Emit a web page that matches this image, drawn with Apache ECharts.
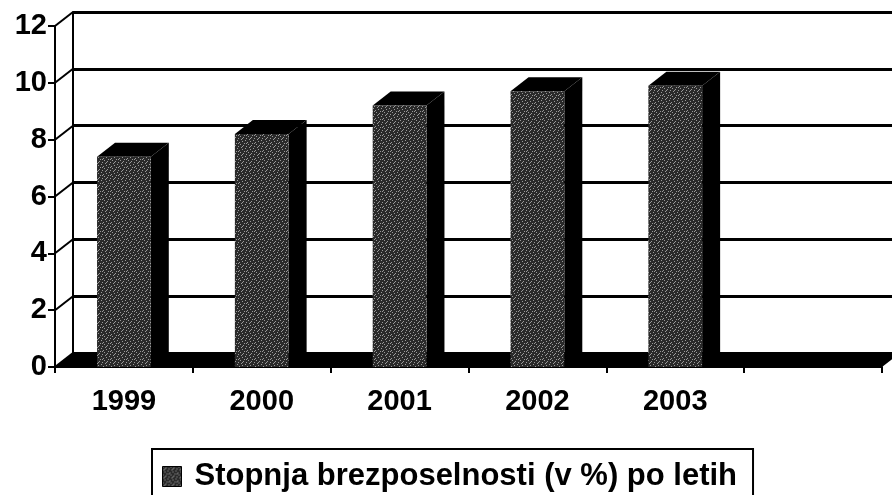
<!DOCTYPE html>
<html>
<head>
<meta charset="utf-8">
<script src="https://cdn.jsdelivr.net/npm/echarts@6/dist/echarts.min.js"></script>
<style>
html, body { margin: 0; padding: 0; background: #fff; }
#main { width: 892px; height: 495px; }
</style>
</head>
<body>
<div id="main"></div>
<script>
// data
var years = ['1999', '2000', '2001', '2002', '2003', ''];
var rates = [7.4, 8.2, 9.2, 9.7, 9.9];
var yTicks = [0, 2, 4, 6, 8, 10, 12];
var seriesName = 'Stopnja brezposelnosti (v %) po letih';

// 3D depth offset (back wall vs front plane)
var DX = 18, DY = -14;
var FONT = '"Liberation Sans", Arial, sans-serif';

// speckled dark texture for the bar fronts
function makeTexture() {
    var c = document.createElement('canvas');
    c.width = 8; c.height = 8;
    var ctx = c.getContext('2d');
    ctx.fillStyle = '#2a2a2a';
    ctx.fillRect(0, 0, 8, 8);
    ctx.fillStyle = '#9a9a9a';
    var dots = [[0, 0], [3, 1], [6, 2], [1, 3], [5, 4], [2, 5], [7, 6], [4, 7], [6, 7], [2, 2]];
    dots.forEach(function(d) { ctx.fillRect(d[0], d[1], 1, 1); });
    return c;
}
var tex = { image: makeTexture(), repeat: 'repeat' };

var myChart = echarts.init(document.getElementById('main'));

function renderBar(params, api) {
    var i = api.value(0), v = api.value(1);
    var top = api.coord([i, v]);
    var base = api.coord([i, 0]);
    var w = api.size([1, 0])[0] * 0.39;
    var x0 = top[0] - w / 2, x1 = top[0] + w / 2;
    return {
        type: 'group',
        children: [
            // side face
            { type: 'polygon', shape: { points: [[x1, base[1]], [x1 + DX, base[1] + DY], [x1 + DX, top[1] + DY], [x1, top[1]]] }, style: { fill: '#000' } },
            // top face
            { type: 'polygon', shape: { points: [[x0, top[1]], [x0 + DX, top[1] + DY], [x1 + DX, top[1] + DY], [x1, top[1]]] }, style: { fill: '#000' } },
            // front face
            { type: 'rect', shape: { x: x0, y: top[1], width: w, height: base[1] - top[1] }, style: { fill: tex } }
        ]
    };
}

function renderFloor(params, api) {
    var cs = params.coordSys;
    var y0 = api.coord([0, 0])[1];
    return {
        type: 'polygon',
        shape: { points: [[cs.x, y0], [cs.x + DX, y0 + DY], [cs.x + cs.width + DX, y0 + DY], [cs.x + cs.width, y0]] },
        style: { fill: '#000' }
    };
}

function renderSide(params, api) {
    var cs = params.coordSys;
    var y = api.coord([0, api.value(1)])[1];
    return {
        type: 'line',
        shape: { x1: cs.x, y1: y, x2: cs.x + DX, y2: y + DY },
        style: { stroke: '#000', lineWidth: 2 }
    };
}

var option = {
    animation: false,
    backgroundColor: '#fff',
    grid: [
        { left: 55, right: 10, top: 26, bottom: 128 },
        { left: 55 + DX, right: 10 - DX - 8, top: 26 + DY, bottom: 128 - DY }
    ],
    legend: {
        left: 152, top: 449,
        borderColor: '#000', borderWidth: 2,
        padding: [12, 16, 20, 10],
        itemWidth: 19, itemHeight: 20, icon: 'rect',
        itemStyle: { borderColor: '#000', borderWidth: 1 },
        textStyle: { fontFamily: FONT, fontWeight: 'bold', fontSize: 31, color: '#000', padding: [0, 0, 0, 8] },
        data: [seriesName]
    },
    xAxis: [{
        gridIndex: 0,
        type: 'category',
        data: years,
        axisLine: { lineStyle: { color: '#000', width: 2 } },
        axisTick: { show: true, interval: 0, length: 6, lineStyle: { color: '#000', width: 2 } },
        axisLabel: { interval: 0, color: '#000', fontFamily: FONT, fontWeight: 'bold', fontSize: 29, margin: 20 }
    }, {
        gridIndex: 1,
        type: 'category',
        data: years,
        show: false
    }],
    yAxis: [{
        gridIndex: 0,
        type: 'value',
        min: 0, max: 12, interval: 2,
        axisLine: { show: true, lineStyle: { color: '#000', width: 2 } },
        axisTick: { show: true, length: 7, lineStyle: { color: '#000', width: 2 } },
        axisLabel: { color: '#000', fontFamily: FONT, fontWeight: 'bold', fontSize: 29, margin: 8 },
        splitLine: { show: false }
    }, {
        gridIndex: 1,
        type: 'value',
        min: 0, max: 12, interval: 2,
        axisLine: { show: true, lineStyle: { color: '#000', width: 2 } },
        axisTick: { show: false },
        axisLabel: { show: false },
        splitLine: { show: true, lineStyle: { color: '#000', width: 3 } }
    }],
    series: [{
        type: 'custom',
        name: 'floor',
        xAxisIndex: 0, yAxisIndex: 0,
        clip: false,
        silent: true,
        renderItem: renderFloor,
        data: [[0, 0]],
        z: 1
    }, {
        type: 'custom',
        name: 'side',
        xAxisIndex: 0, yAxisIndex: 0,
        clip: false,
        silent: true,
        renderItem: renderSide,
        data: yTicks.map(function(v) { return [0, v]; }),
        z: 1
    }, {
        type: 'custom',
        name: seriesName,
        xAxisIndex: 0, yAxisIndex: 0,
        clip: false,
        itemStyle: { color: tex },
        renderItem: renderBar,
        encode: { x: 0, y: 1 },
        data: rates.map(function(v, i) { return [i, v]; }),
        z: 3
    }]
};
myChart.setOption(option);
</script>
</body>
</html>
